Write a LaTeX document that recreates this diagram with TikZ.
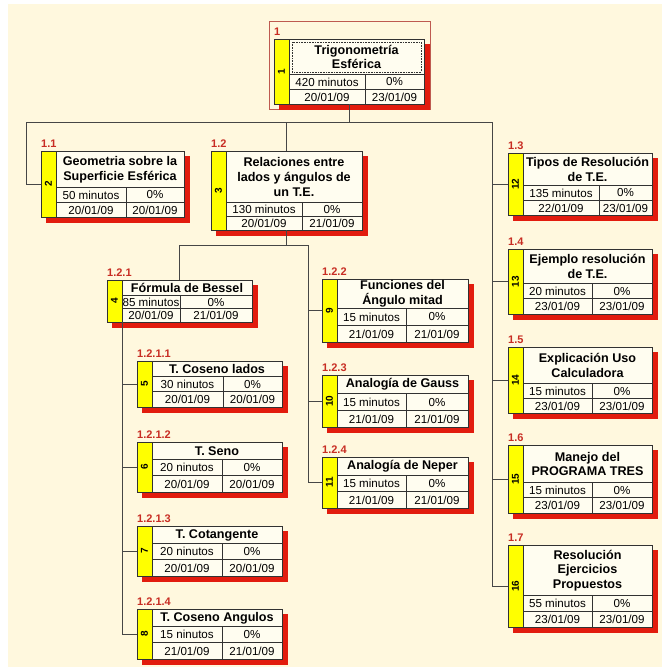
\documentclass[tikz,border=0pt]{standalone}
\usepackage{fontspec}
\setmainfont{Liberation Sans}
\usetikzlibrary{calc}
\definecolor{bgcream}{RGB}{255,248,222}
\definecolor{cellfill}{RGB}{255,253,240}
\definecolor{shadowred}{RGB}{226,28,14}
\definecolor{stripyellow}{RGB}{255,255,0}
\definecolor{boxline}{RGB}{50,50,50}
\definecolor{labred}{RGB}{200,45,35}
\definecolor{connline}{RGB}{70,70,70}
\definecolor{selframe}{RGB}{190,90,80}
\tikzset{
  wbsbox/.style={draw=boxline, line width=0.8pt, inner sep=0pt, outer sep=0pt, anchor=north west},
  cellline/.style={draw=boxline, line width=0.8pt},
  titletext/.style={font=\fontsize{12.6}{14.8}\selectfont\bfseries, align=center, inner sep=0pt},
  datatext/.style={font=\fontsize{11.6}{13}\selectfont, inner sep=0pt},
  idtext/.style={font=\fontsize{10}{10}\selectfont\bfseries, rotate=90, inner sep=0pt},
  labtext/.style={font=\fontsize{11}{12}\selectfont\bfseries, text=labred, inner sep=0pt, anchor=base west},
  conn/.style={draw=connline, line width=1pt},
}
% #1 name #2 L #3 T #4 R #5 title bottom #6 B #7 split x #8 label #9 id
\newcommand\wbs[9]{%
  \def\wNm{#1}\def\wL{#2}\def\wT{#3}\def\wR{#4}\def\wTB{#5}\def\wB{#6}\def\wS{#7}\def\wLab{#8}\def\wId{#9}%
  \wbstext}
% #1 title #2 duration #3 percent #4 start #5 end
\newcommand\wbstext[5]{%
  \pgfmathsetmacro\wMid{(\wTB+\wB)/2}%
  \pgfmathsetmacro\wW{\wR-\wL}%
  \pgfmathsetmacro\wH{\wB-\wT}%
  \pgfmathsetmacro\wSL{\wL+15}%
  \fill[shadowred] (\wL+5,\wT+5) rectangle (\wR+6,\wB+6);
  \fill[cellfill] (\wL,\wT) rectangle (\wR,\wB);
  \fill[stripyellow] (\wL,\wT) rectangle (\wSL,\wB);
  \draw[cellline] (\wSL,\wT) -- (\wSL,\wB);
  \draw[cellline] (\wSL,\wTB) -- (\wR,\wTB);
  \draw[cellline] (\wSL,\wMid) -- (\wR,\wMid);
  \draw[cellline] (\wS,\wTB) -- (\wS,\wB);
  \node[wbsbox, minimum width=\wW pt, minimum height=\wH pt] (\wNm) at (\wL,\wT) {};
  \node[labtext] at (\wL,\wT-4) {\wLab};
  \node[idtext] at ({\wL+7.5},{(\wT+\wB)/2}) {\wId};
  \node[titletext] at ({(\wSL+\wR)/2},{(\wT+\wTB)/2+0.5}) {#1};
  \node[datatext] at ({(\wSL+\wS)/2},{(\wTB+\wMid)/2+0.5}) {#2};
  \node[datatext] at ({(\wS+\wR)/2},{(\wTB+\wMid)/2+0.5}) {#3};
  \node[datatext] at ({(\wSL+\wS)/2},{(\wMid+\wB)/2+0.5}) {#4};
  \node[datatext] at ({(\wS+\wR)/2},{(\wMid+\wB)/2+0.5}) {#5};
}
\begin{document}
\begin{tikzpicture}[x=1pt,y=-1pt]
\useasboundingbox (0,0) rectangle (669,667);
\fill[white] (0,0) rectangle (669,667);
\fill[bgcream] (8,4) rectangle (662,667);

% selection frame of the root
\draw[selframe, line width=0.8pt] (269,21) rectangle (430,109);

\wbs{root}{274}{39}{424}{74}{104}{365}{1}{1}{Trigonometría\\Esférica}{420 minutos}{0\%}{20/01/09}{23/01/09}
\draw[densely dotted, boxline, line width=0.6pt] (292,42) rectangle (421,72);

\wbs{n11}{41}{151}{184}{187}{217}{126}{1.1}{2}{Geometria sobre la\\Superficie Esférica}{50 minutos}{0\%}{20/01/09}{20/01/09}
\wbs{n12}{211}{151}{362}{202}{230}{302}{1.2}{3}{Relaciones entre\\lados y ángulos de\\un T.E.}{130 minutos}{0\%}{20/01/09}{21/01/09}
\wbs{n13}{508}{153}{652}{185}{215}{599}{1.3}{12}{Tipos de Resolución\\de T.E.}{135 minutos}{0\%}{22/01/09}{23/01/09}
\wbs{n14}{508}{249}{652}{283}{314}{592}{1.4}{13}{Ejemplo resolución\\de T.E.}{20 minutos}{0\%}{23/01/09}{23/01/09}
\wbs{n15}{508}{347}{652}{383}{413}{592}{1.5}{14}{Explicación Uso\\Calculadora}{15 minutos}{0\%}{23/01/09}{23/01/09}
\wbs{n16}{508}{445}{652}{482}{513}{592}{1.6}{15}{Manejo del\\PROGRAMA TRES}{15 minutos}{0\%}{23/01/09}{23/01/09}
\wbs{n17}{508}{545}{652}{595}{627}{592}{1.7}{16}{Resolución\\Ejercicios\\Propuestos}{55 minutos}{0\%}{23/01/09}{23/01/09}

\wbs{n121}{107}{280}{252}{295}{322}{180}{1.2.1}{4}{Fórmula de Bessel}{85 minutos}{0\%}{20/01/09}{21/01/09}
\wbs{n122}{322}{279}{468}{308}{342}{406}{1.2.2}{9}{Funciones del\\Ángulo mitad}{15 minutos}{0\%}{21/01/09}{21/01/09}
\wbs{n123}{322}{375}{468}{393}{427}{406}{1.2.3}{10}{Analogía de Gauss}{15 minutos}{0\%}{21/01/09}{21/01/09}
\wbs{n124}{322}{457}{468}{475}{508}{406}{1.2.4}{11}{Analogía de Neper}{15 minutos}{0\%}{21/01/09}{21/01/09}

\wbs{n1211}{137}{361}{282}{376}{407}{223}{1.2.1.1}{5}{T. Coseno lados}{30 ninutos}{0\%}{20/01/09}{20/01/09}
\wbs{n1212}{137}{442}{282}{459}{492}{222}{1.2.1.2}{6}{T. Seno}{20 ninutos}{0\%}{20/01/09}{20/01/09}
\wbs{n1213}{137}{526}{282}{543}{576}{222}{1.2.1.3}{7}{T. Cotangente}{20 ninutos}{0\%}{20/01/09}{20/01/09}
\wbs{n1214}{137}{609}{282}{626}{659}{222}{1.2.1.4}{8}{T. Coseno Angulos}{15 ninutos}{0\%}{21/01/09}{21/01/09}

% connectors
\coordinate (busL) at (26,122);
\coordinate (busR) at (492,122);
\draw[conn] (root.south) -- (root.south |- busL);
\draw[conn] (busL) -- (busR);
\draw[conn] (busL) |- (n11.west);
\draw[conn] (n12.north |- busL) -- (n12.north);
\draw[conn] (busR) |- (n17.west);
\foreach \n in {n13,n14,n15,n16} \draw[conn] (busR |- \n.west) -- (\n.west);

\coordinate (b2R) at (308,245);
\draw[conn] (n12.south) -- (n12.south |- b2R);
\draw[conn] (n121.north) -- (n121.north |- b2R) -- (b2R) |- (n124.west);
\foreach \n in {n122,n123} \draw[conn] (b2R |- \n.west) -- (\n.west);

\coordinate (b3) at ($(n121.south west)+(15,0)$);
\draw[conn] (b3) |- (n1214.west);
\foreach \n in {n1211,n1212,n1213} \draw[conn] (b3 |- \n.west) -- (\n.west);
\end{tikzpicture}
\end{document}
